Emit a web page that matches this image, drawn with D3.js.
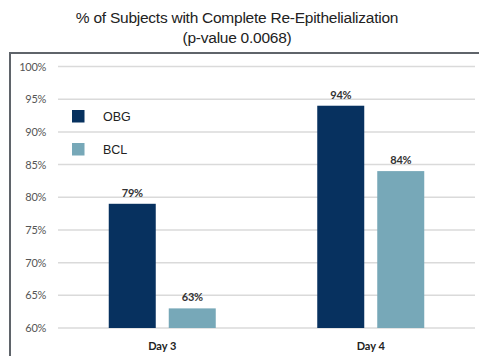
<!DOCTYPE html>
<html>
<head>
<meta charset="utf-8">
<script src="https://cdn.jsdelivr.net/npm/d3@7"></script>
<style>
  html, body { margin: 0; padding: 0; background: #fff; }
  svg { display: block; }
</style>
</head>
<body>
<svg id="chart" width="479" height="356"></svg>
<script>
// Chart data
const categories = ["Day 3", "Day 4"];
const seriesNames = ["OBG", "BCL"];
const obgValues = [79, 94];
const bclValues = [63, 84];
const yTicks = [60, 65, 70, 75, 80, 85, 90, 95, 100];
const titleLines = ["% of Subjects with Complete Re-Epithelialization", "(p-value 0.0068)"];

const colors = { OBG: "#07315f", BCL: "#77a8b8" };
const seriesValues = { OBG: obgValues, BCL: bclValues };

const svg = d3.select("#chart");
const W = 479, H = 356;

// Plot area
const plot = { left: 58, right: 475, top: 66.5, bottom: 328 };

// Title
svg.selectAll("text.title")
  .data(titleLines)
  .join("text")
  .attr("class", "title")
  .attr("x", 237)
  .attr("y", (d, i) => 23 + i * 20)
  .attr("text-anchor", "middle")
  .attr("font-family", "Liberation Sans, Arial, sans-serif")
  .attr("font-size", 15.5)
  .attr("letter-spacing", -0.25)
  .attr("fill", "#222")
  .text(d => d);

// Frame around the chart area (extends past the right and bottom edges)
svg.append("rect")
  .attr("x", 10)
  .attr("y", 53)
  .attr("width", W + 20)
  .attr("height", H + 20)
  .attr("fill", "none")
  .attr("stroke", "#5f646a")
  .attr("stroke-width", 2);

const y = d3.scaleLinear().domain([60, 100]).range([plot.bottom, plot.top]);
const x0 = d3.scaleBand().domain(categories).range([plot.left, plot.right]).padding(0);
const barW = 47, gap = 13;
const x1 = d3.scaleBand().domain(seriesNames)
  .range([-(barW + gap / 2), barW + gap / 2])
  .paddingInner(gap / (barW + gap))
  .paddingOuter(0);

// Gridlines
svg.append("g")
  .selectAll("line")
  .data(yTicks)
  .join("line")
  .attr("x1", plot.left)
  .attr("x2", plot.right)
  .attr("y1", d => y(d))
  .attr("y2", d => y(d))
  .attr("stroke", "#dadada")
  .attr("stroke-width", 1.5);

// Y axis labels
const yAxis = d3.axisLeft(y).tickValues(yTicks).tickSize(0).tickPadding(0)
  .tickFormat(d => d + "%");
const ya = svg.append("g")
  .attr("transform", `translate(${46},0)`)
  .call(yAxis);
ya.select(".domain").remove();
ya.selectAll("text")
  .attr("font-family", "Lato, Open Sans, sans-serif")
  .attr("font-size", 11)
  .attr("letter-spacing", -0.3)
  .attr("fill", "#555");

// Bars
const groups = svg.append("g")
  .selectAll("g")
  .data(categories)
  .join("g")
  .attr("transform", d => `translate(${x0(d) + x0.bandwidth() / 2},0)`);

const barData = (cat, i) => seriesNames.map(s => ({ s, v: seriesValues[s][i] }));

groups.each(function (cat, i) {
  const g = d3.select(this);
  const data = barData(cat, i);
  g.selectAll("rect")
    .data(data)
    .join("rect")
    .attr("x", d => x1(d.s))
    .attr("y", d => y(d.v))
    .attr("width", x1.bandwidth())
    .attr("height", d => y(60) - y(d.v))
    .attr("fill", d => colors[d.s]);
  g.selectAll("text.val")
    .data(data)
    .join("text")
    .attr("class", "val")
    .attr("x", d => x1(d.s) + x1.bandwidth() / 2)
    .attr("y", d => y(d.v) - 7)
    .attr("text-anchor", "middle")
    .attr("font-family", "Lato, Open Sans, sans-serif")
    .attr("font-weight", "bold")
    .attr("font-size", 11)
    .attr("letter-spacing", -0.3)
    .attr("fill", "#333")
    .text(d => d.v + "%");
});

// Category labels
svg.append("g")
  .selectAll("text")
  .data(categories)
  .join("text")
  .attr("x", d => x0(d) + x0.bandwidth() / 2)
  .attr("y", 350)
  .attr("text-anchor", "middle")
  .attr("font-family", "Lato, Open Sans, sans-serif")
  .attr("font-weight", "bold")
  .attr("font-size", 11)
  .attr("fill", "#222")
  .text(d => d);

// Legend
const legend = svg.append("g")
  .selectAll("g")
  .data(seriesNames)
  .join("g")
  .attr("transform", (d, i) => `translate(72,${110 + i * 33})`);
legend.append("rect")
  .attr("width", 12.5)
  .attr("height", 12.5)
  .attr("fill", d => colors[d]);
legend.append("text")
  .attr("x", 31)
  .attr("y", 11)
  .attr("font-family", "Liberation Sans, Arial, sans-serif")
  .attr("font-size", 12.5)
  .attr("fill", "#222")
  .text(d => d);
</script>
</body>
</html>
